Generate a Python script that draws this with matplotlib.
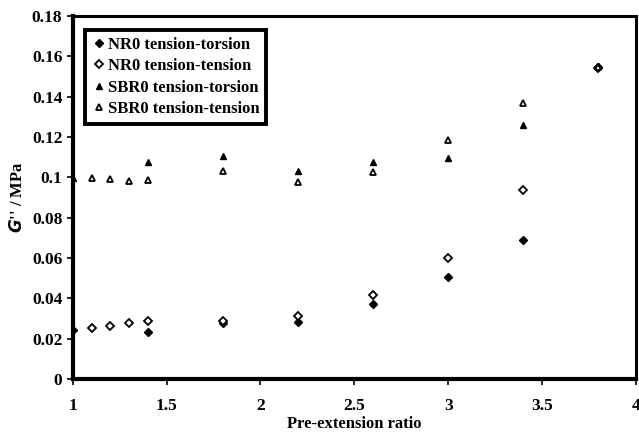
import matplotlib
matplotlib.use("Agg")
import matplotlib.pyplot as plt
from matplotlib.ticker import FuncFormatter

# pre-extension ratio values
x_nr_tor = [1.0, 1.4, 1.8, 2.2, 2.6, 3.0, 3.4, 3.8]
nr_tor = [0.0243, 0.0231, 0.0276, 0.0283, 0.0370, 0.0504, 0.0689, 0.1550]

x_nr_ten = [1.1, 1.2, 1.3, 1.4, 1.8, 2.2, 2.6, 3.0, 3.4, 3.8]
nr_ten = [0.0254, 0.0263, 0.0276, 0.0289, 0.0286, 0.0312, 0.0418, 0.0598, 0.0939, 0.1545]

x_sbr_tor = [1.0, 1.4, 1.8, 2.2, 2.6, 3.0, 3.4, 3.8]
sbr_tor = [0.0998, 0.1074, 0.1105, 0.1033, 0.1074, 0.1094, 0.1260, 0.1555]

x_sbr_ten = [1.1, 1.2, 1.3, 1.4, 1.8, 2.2, 2.6, 3.0, 3.4, 3.8]
sbr_ten = [0.0998, 0.0992, 0.0982, 0.0985, 0.1030, 0.0977, 0.1025, 0.1185, 0.1368, 0.1550]

labels = ["NR0 tension-torsion", "NR0 tension-tension",
          "SBR0 tension-torsion", "SBR0 tension-tension"]

plt.rcParams['font.family'] = ['Liberation Serif', 'DejaVu Serif']
plt.rcParams['font.weight'] = 'bold'

fig = plt.figure(figsize=(6.39, 4.37), dpi=100)
ax = fig.add_axes([0.114, 0.133, 0.881, 0.830])

ax.plot(x_nr_tor, nr_tor, 'D', ms=4, mfc='black', mec='black', ls='none', label=labels[0])
ax.plot(x_nr_ten, nr_ten, 'D', ms=4, mfc='white', mec='black', mew=1.3, ls='none', label=labels[1])
ax.plot(x_sbr_tor, sbr_tor, '^', ms=5, mfc='black', mec='black', ls='none', label=labels[2])
ax.plot(x_sbr_ten, sbr_ten, '^', ms=5, mfc='white', mec='black', mew=1.3, ls='none', label=labels[3])

ax.set_xlim(1, 4)
ax.set_ylim(0, 0.18)
ax.set_xticks([1, 1.5, 2, 2.5, 3, 3.5, 4])
ax.set_yticks([0, 0.02, 0.04, 0.06, 0.08, 0.1, 0.12, 0.14, 0.16, 0.18])
ax.yaxis.set_major_formatter(FuncFormatter(lambda v, p: '%g' % round(v, 2)))
ax.xaxis.set_major_formatter(FuncFormatter(lambda v, p: '%g' % v))

for s in ['left', 'bottom']:
  ax.spines[s].set_linewidth(3.0)
for s in ['top', 'right']:
  ax.spines[s].set_linewidth(2.2)

ax.tick_params(axis='both', labelsize=12.5, width=1.2, length=4, direction='out')
ax.tick_params(axis='x', pad=10)
for t in ax.get_xticklabels() + ax.get_yticklabels():
  t.set_fontweight('bold')

ax.set_xlabel('Pre-extension ratio', fontsize=12, fontweight='bold', labelpad=1)
ax.set_ylabel("$\\mathbfit{G}$'' / MPa", fontsize=12, fontweight='bold', labelpad=4)

leg = ax.legend(loc='upper left', bbox_to_anchor=(0.012, 0.975), fontsize=12,
                frameon=True, fancybox=False, framealpha=1, handletextpad=0.1,
                handlelength=0.9, borderpad=0.4, labelspacing=0.32, borderaxespad=0.3)
leg.get_frame().set_edgecolor('black')
leg.get_frame().set_linewidth(2.8)
for t in leg.get_texts():
  t.set_fontweight('bold')

fig.savefig('out.png', dpi=100)
